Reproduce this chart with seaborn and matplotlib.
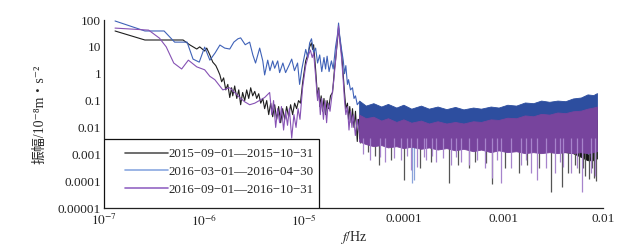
import numpy as np
import pandas as pd
import matplotlib
matplotlib.use("Agg")
import matplotlib.pyplot as plt
from matplotlib.lines import Line2D
from matplotlib.patches import Rectangle
import seaborn as sns

# ---------------- data ----------------
labels = ["2015\u221209\u221201\u20142015\u221210\u221231",
          "2016\u221203\u221201\u20142016\u221204\u221230",
          "2016\u221209\u221201\u20142016\u221210\u221231"]

# resolved low-frequency part of each spectrum
black_f = [1.29e-7, 2.57e-7, 6.2e-7, 7.2e-7, 8.5e-7, 9.1e-7, 1.02e-6, 1.07e-6, 1.15e-6, 1.23e-6,
           1.32e-6, 1.38e-6, 1.45e-6, 1.51e-6, 1.58e-6, 1.66e-6, 1.74e-6, 1.82e-6, 1.9e-6, 1.95e-6,
           2.04e-6, 2.14e-6, 2.24e-6, 2.34e-6, 2.45e-6, 2.57e-6, 2.69e-6, 2.82e-6, 2.95e-6, 3.09e-6,
           3.24e-6, 3.39e-6, 3.55e-6, 3.72e-6, 3.9e-6, 4.07e-6, 4.27e-6, 4.47e-6, 4.68e-6, 4.9e-6,
           5.13e-6, 5.37e-6, 5.62e-6, 5.89e-6, 6.17e-6, 6.46e-6, 6.76e-6, 7.08e-6, 7.41e-6, 7.76e-6,
           8.13e-6, 8.51e-6, 8.9e-6, 9.3e-6, 9.77e-6, 1.05e-5, 1.1e-5, 1.15e-5, 1.2e-5, 1.23e-5,
           1.26e-5, 1.32e-5, 1.38e-5, 1.42e-5, 1.45e-5, 1.5e-5, 1.55e-5, 1.6e-5, 1.66e-5, 1.72e-5,
           1.78e-5, 1.86e-5, 1.95e-5, 2.04e-5, 2.09e-5, 2.19e-5, 2.24e-5, 2.29e-5, 2.4e-5, 2.5e-5,
           2.57e-5, 2.65e-5, 2.75e-5, 2.82e-5, 2.9e-5, 3.0e-5, 3.09e-5, 3.2e-5, 3.31e-5, 3.45e-5,
           3.55e-5, 3.63e-5]
black_a = [39, 18, 18, 12, 8.3, 10, 7, 9, 5, 2.7,
           2.0, 1.4, 0.9, 0.5, 0.7, 0.25, 0.4, 0.13, 0.3, 0.15,
           0.35, 0.12, 0.25, 0.07, 0.2, 0.1, 0.25, 0.12, 0.3, 0.15,
           0.22, 0.12, 0.18, 0.08, 0.12, 0.05, 0.1, 0.03, 0.08, 0.025,
           0.07, 0.02, 0.06, 0.015, 0.05, 0.02, 0.06, 0.025, 0.07, 0.03,
           0.08, 0.05, 0.1, 0.08, 0.45, 3, 5, 10, 14, 8,
           12, 1.4, 0.13, 0.3, 0.06, 0.15, 0.04, 0.12, 0.03, 0.1,
           0.05, 0.15, 0.2, 1.5, 3.2, 20, 50, 25, 6, 0.8,
           0.2, 0.05, 0.08, 0.02, 0.06, 0.015, 0.05, 0.01, 0.04, 0.003,
           0.02, 0.008]

blue_f = [1.29e-7, 2.57e-7, 4.0e-7, 5.1e-7, 6.8e-7, 7.8e-7, 9.0e-7, 1.02e-6, 1.15e-6, 1.3e-6,
          1.45e-6, 1.62e-6, 1.82e-6, 2.0e-6, 2.2e-6, 2.34e-6, 2.6e-6, 2.88e-6, 3.1e-6, 3.3e-6,
          3.63e-6, 3.9e-6, 4.07e-6, 4.37e-6, 4.6e-6, 4.9e-6, 5.13e-6, 5.5e-6, 5.75e-6, 6.2e-6,
          6.6e-6, 7.2e-6, 7.6e-6, 8.1e-6, 8.7e-6, 9.12e-6, 9.6e-6, 1.05e-5, 1.1e-5, 1.15e-5,
          1.2e-5, 1.26e-5, 1.32e-5, 1.38e-5, 1.45e-5, 1.52e-5, 1.6e-5, 1.66e-5, 1.72e-5, 1.8e-5,
          1.9e-5, 1.98e-5, 2.09e-5, 2.19e-5, 2.24e-5, 2.29e-5, 2.4e-5, 2.5e-5, 2.57e-5, 2.65e-5,
          2.75e-5, 2.82e-5, 2.95e-5, 3.09e-5, 3.2e-5, 3.31e-5, 3.45e-5, 3.63e-5]
blue_a = [92, 39, 39, 15, 15, 3.5, 2.7, 9.8, 3.2, 6,
          11.7, 9, 8.3, 15, 20, 21.6, 12, 15, 5, 2.5,
          9, 3, 0.9, 3.2, 1.3, 3, 1.6, 3, 1.1, 2.5,
          1.1, 2.2, 3.5, 1.3, 2.5, 0.4, 1.5, 8, 4, 14,
          20, 6, 9, 2.5, 5, 1.2, 4, 1.5, 4.5, 1.2,
          3, 1.5, 10, 30, 77, 30, 8, 3, 1, 2,
          0.4, 0.6, 0.25, 0.3, 0.12, 0.15, 0.07, 0.09]

purple_f = [1.29e-7, 2.8e-7, 3.6e-7, 4.2e-7, 5.0e-7, 6.0e-7, 7.0e-7, 8.5e-7, 1.02e-6, 1.15e-6,
            1.29e-6, 1.55e-6, 1.82e-6, 2.29e-6, 2.57e-6, 2.88e-6, 3.24e-6, 4.07e-6, 4.57e-6, 4.8e-6,
            5.0e-6, 5.25e-6, 5.5e-6, 5.75e-6, 6.0e-6, 6.3e-6, 6.6e-6, 6.9e-6, 7.2e-6, 7.6e-6,
            8.0e-6, 8.4e-6, 8.8e-6, 9.2e-6, 9.77e-6, 1.05e-5, 1.12e-5, 1.17e-5, 1.22e-5, 1.26e-5,
            1.32e-5, 1.38e-5, 1.42e-5, 1.47e-5, 1.52e-5, 1.58e-5, 1.64e-5, 1.7e-5, 1.76e-5, 1.84e-5,
            1.92e-5, 2.0e-5, 2.09e-5, 2.19e-5, 2.24e-5, 2.29e-5, 2.4e-5, 2.5e-5, 2.57e-5, 2.65e-5,
            2.75e-5, 2.85e-5, 2.95e-5, 3.05e-5, 3.15e-5, 3.3e-5, 3.45e-5, 3.63e-5]
purple_a = [50, 42, 21, 10, 2.5, 1.5, 3.2, 1.8, 1.4, 0.8,
            0.6, 0.25, 0.3, 0.13, 0.09, 0.07, 0.08, 0.13, 0.2, 0.03,
            0.1, 0.01, 0.05, 0.015, 0.06, 0.008, 0.04, 0.012, 0.05, 0.004,
            0.03, 0.01, 0.05, 0.02, 0.3, 2, 5, 7.6, 4, 6,
            0.8, 0.1, 0.25, 0.03, 0.12, 0.02, 0.1, 0.015, 0.08, 0.04,
            0.15, 0.5, 3, 25, 60, 20, 4, 0.5, 0.1, 0.03,
            0.06, 0.008, 0.04, 0.01, 0.03, 0.005, 0.02, 0.006]

# dense high-frequency part: envelopes of the noise bands
band_f = [3.6e-5, 4.2e-5, 5e-5, 6e-5, 7e-5, 8.5e-5, 1e-4, 1.2e-4, 1.5e-4, 1.8e-4,
          2.2e-4, 2.7e-4, 3.3e-4, 4e-4, 5e-4, 6e-4, 7.5e-4, 9e-4, 1.1e-3, 1.35e-3,
          1.65e-3, 2e-3, 2.4e-3, 2.9e-3, 3.5e-3, 4.2e-3, 5e-3, 6e-3, 7e-3, 8e-3, 8.7e-3]
blue_upper = [0.1, 0.065, 0.08, 0.06, 0.075, 0.055, 0.07, 0.05, 0.065, 0.05,
              0.06, 0.048, 0.058, 0.047, 0.055, 0.05, 0.06, 0.055, 0.07, 0.065,
              0.085, 0.08, 0.1, 0.09, 0.1, 0.095, 0.12, 0.13, 0.17, 0.16, 0.19]
blue_lower = [0.012, 0.012, 0.012, 0.011, 0.011, 0.011, 0.01, 0.01, 0.01, 0.01,
              0.01, 0.01, 0.01, 0.01, 0.01, 0.011, 0.011, 0.012, 0.012, 0.013,
              0.014, 0.015, 0.016, 0.017, 0.018, 0.018, 0.02, 0.02, 0.02, 0.02, 0.02]
purple_upper = [0.03, 0.022, 0.025, 0.018, 0.022, 0.016, 0.02, 0.015, 0.018, 0.014,
                0.017, 0.014, 0.016, 0.014, 0.017, 0.016, 0.02, 0.019, 0.023, 0.022,
                0.028, 0.026, 0.032, 0.03, 0.036, 0.034, 0.04, 0.042, 0.05, 0.055, 0.06]
purple_lower = [0.003, 0.0024, 0.002, 0.0022, 0.0018, 0.002, 0.0017, 0.0019, 0.0016, 0.0018,
                0.0015, 0.0017, 0.0014, 0.0016, 0.0013, 0.0015, 0.0012, 0.0014, 0.0012, 0.0013,
                0.0011, 0.0012, 0.0011, 0.0012, 0.0011, 0.0012, 0.0011, 0.0012, 0.0011, 0.0012, 0.0013]
black_upper = [0.02, 0.015, 0.018, 0.013, 0.015, 0.012, 0.014, 0.011, 0.013, 0.01,
               0.012, 0.01, 0.011, 0.01, 0.012, 0.011, 0.012, 0.012, 0.013, 0.013,
               0.014, 0.014, 0.015, 0.015, 0.016, 0.016, 0.018, 0.018, 0.02, 0.02, 0.02]
black_lower = [0.004, 0.003, 0.0026, 0.0026, 0.0024, 0.0024, 0.0022, 0.0022, 0.002, 0.002,
               0.002, 0.002, 0.0018, 0.0018, 0.0017, 0.0017, 0.0016, 0.0016, 0.0016, 0.0015,
               0.0015, 0.0015, 0.0014, 0.0014, 0.0013, 0.0012, 0.0011, 0.0008, 0.0006, 0.0006, 0.0007]

# deep downward spikes below the bands
black_spike_f = [3.7e-5, 4.4e-5, 5.2e-5, 5.75e-5, 7.5e-5, 1.02e-4, 1.45e-4, 1.9e-4, 2.88e-4, 3.5e-4,
                 4.57e-4, 5.2e-4, 6.76e-4, 7.76e-4, 1.05e-3, 1.45e-3, 1.75e-3, 2.29e-3, 3.02e-3, 3.89e-3,
                 4.5e-3, 5.2e-3, 5.75e-3, 6.3e-3, 6.6e-3, 7.2e-3, 7.7e-3, 8.1e-3, 8.6e-3]
black_spike_lo = [0.0027, 0.0012, 0.0009, 0.0004, 0.0006, 0.00011, 0.0003, 0.0005, 0.000086, 0.0004,
                  0.0003, 0.0005, 0.00047, 0.000076, 0.0003, 0.0002, 0.0004, 0.0003, 0.00004, 0.00006,
                  0.0002, 0.0004, 0.0002, 0.0003, 0.00015, 0.00012, 0.0003, 0.00013, 0.0001]
blue_spike_f = [3.8e-5, 4.8e-5, 1.23e-4, 1.29e-4, 2.4e-4, 5e-4, 6.2e-3, 7.0e-3, 7.6e-3]
blue_spike_lo = [0.003, 0.004, 0.000086, 0.00011, 0.002, 0.002, 0.0011, 0.001, 0.0008]
purple_spike_f = [3.9e-5, 4.6e-5, 5.8e-5, 6.5e-5, 8e-5, 9.5e-5, 1.08e-4, 1.2e-4, 1.38e-4, 1.6e-4,
                  1.7e-4, 1.95e-4, 2.1e-4, 2.5e-4, 3.0e-4, 3.4e-4, 3.8e-4, 4.5e-4, 5.5e-4, 6.5e-4,
                  7.8e-4, 8.6e-4, 9.5e-4, 1.2e-3, 1.5e-3, 1.7e-3, 1.9e-3, 2.2e-3, 2.7e-3, 3.3e-3,
                  3.7e-3, 4e-3, 4.8e-3, 5.5e-3, 6.2e-3, 7.5e-3, 8.4e-3]
purple_spike_lo = [0.001, 0.0006, 0.0008, 0.0005, 0.0007, 0.0006, 0.0009, 0.00026, 0.00034, 0.0008,
                   0.0006, 0.0009, 0.0005, 0.0007, 0.0004, 0.0008, 0.0005, 0.0004, 0.0006, 0.0003,
                   0.00013, 0.0006, 0.000086, 0.0003, 0.0004, 0.0006, 0.0002, 0.00011, 0.0003, 0.0002,
                   0.0005, 0.00035, 0.0002, 0.0003, 0.00004, 0.0002, 0.00015]

x_ticks = [1e-7, 1e-6, 1e-5, 1e-4, 1e-3, 1e-2]
x_ticklabels = [r"$10^{-7}$", r"$10^{-6}$", r"$10^{-5}$", "0.0001", "0.001", "0.01"]
y_ticks = [1e-5, 1e-4, 1e-3, 1e-2, 1e-1, 1, 10, 100]
y_ticklabels = ["0.00001", "0.0001", "0.001", "0.01", "0.1", "1", "10", "100"]

# ---------------- style ----------------
sns.set_style("white")
plt.rcParams["font.family"] = ["Liberation Serif", "Noto Sans CJK SC", "DejaVu Sans"]
plt.rcParams["mathtext.fontset"] = "stix"
plt.rcParams["font.size"] = 9.5

line_colors = ["#1e1e1e", "#3f62b8", "#8652b4"]
band_colors = ["#111111", "#2d4e9f", "#77449d"]
spike_colors = ["#555555", "#8aa3da", "#a784cc"]

fig = plt.figure(figsize=(6.32, 2.45), dpi=100)
ax = fig.add_axes([104 / 632, 1 - 208 / 245, (603 - 104) / 632, (208 - 20) / 245])
ax.set_xscale("log")
ax.set_yscale("log")

df = pd.concat([
    pd.DataFrame({"freq": black_f, "amp": black_a, "period": labels[0]}),
    pd.DataFrame({"freq": blue_f, "amp": blue_a, "period": labels[1]}),
    pd.DataFrame({"freq": purple_f, "amp": purple_a, "period": labels[2]}),
])
sns.lineplot(data=df, x="freq", y="amp", hue="period", hue_order=labels,
             palette=line_colors, estimator=None, sort=False, lw=0.8, legend=False, ax=ax)
for i, ln in enumerate(ax.get_lines()[:3]):
    ln.set_zorder(2 + i)

bands = [(black_upper, black_lower), (blue_upper, blue_lower), (purple_upper, purple_lower)]
spikes = [(black_spike_f, black_spike_lo, 0.008), (blue_spike_f, blue_spike_lo, 0.015),
          (purple_spike_f, purple_spike_lo, 0.004)]
for i in range(3):
    up, lo = bands[i]
    ax.fill_between(band_f, lo, up, color=band_colors[i], lw=0.6,
                    edgecolor=band_colors[i], zorder=2 + i)
    sf, slo, top = spikes[i]
    ax.vlines(sf, slo, top, colors=spike_colors[i], lw=0.9, zorder=2 + i)

ax.set_xlim(1e-7, 1e-2)
ax.set_ylim(1e-5, 100)
ax.set_xticks(x_ticks)
ax.set_xticklabels(x_ticklabels)
ax.set_yticks(y_ticks)
ax.set_yticklabels(y_ticklabels)
ax.minorticks_off()
ax.tick_params(direction="in", length=3.5, width=0.8, colors="#222222", labelsize=9.5)
ax.tick_params(axis="x", pad=3.5)
ax.tick_params(axis="y", pad=2)
for s in ["top", "right"]:
    ax.spines[s].set_visible(False)
for s in ["left", "bottom"]:
    ax.spines[s].set_color("#222222")
    ax.spines[s].set_linewidth(0.9)

ax.set_xlabel(r"$f$/Hz", fontsize=10, labelpad=0)
ax.set_ylabel("振幅/10\u207b\u2078m\u30fbs\u207b\u00b2", fontsize=10, labelpad=8,
              family=["Liberation Serif", "Noto Sans CJK SC", "DejaVu Sans"])

# legend box (frame drawn as a patch so its size matches the reference)
ax.add_patch(Rectangle((0, 0), 215 / 499, 69 / 188, transform=ax.transAxes,
                       facecolor="white", edgecolor="#111111", lw=0.9, zorder=9))
handles = [Line2D([], [], color=c, lw=1.2) for c in ["#555555", "#8aa8e0", "#9466c4"]]
leg = ax.legend(handles, labels, loc="upper left", bbox_to_anchor=(21 / 499, 60 / 188),
                borderaxespad=0, frameon=False, fontsize=9.3, handlelength=3.3,
                handletextpad=0.1, borderpad=0, labelspacing=0.45)
leg.set_zorder(10)

fig.savefig("out.png", dpi=100)
